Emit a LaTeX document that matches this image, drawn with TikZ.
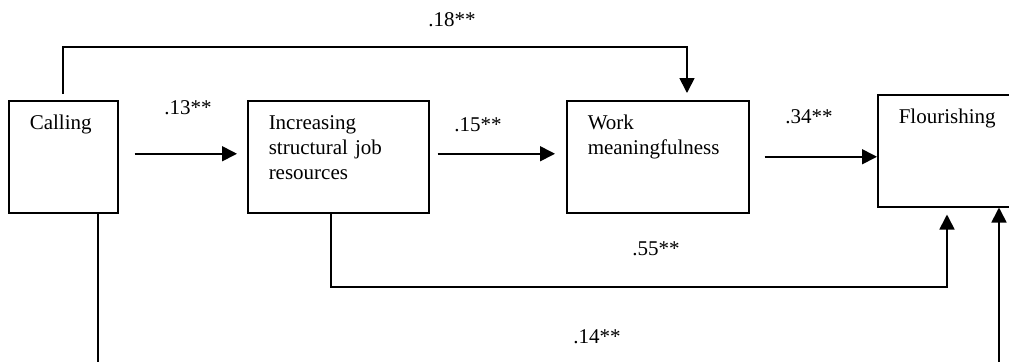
\documentclass[tikz,border=0pt]{standalone}
\usepackage{fontspec}
\setmainfont{Liberation Serif}
\usetikzlibrary{arrows.meta,calc}

\tikzset{
  box/.style={draw,line width=0.75pt,anchor=north west,align=left,
    inner xsep=10.5pt,inner ysep=7pt,text height=7.5pt,text depth=34.5pt,
    font=\fontsize{10.5}{12.5}\selectfont},
  coef/.style={inner sep=0pt,font=\fontsize{10.5}{12.5}\selectfont},
  conn/.style={line width=0.85pt},
  arr/.style={conn,-{Triangle[length=7.5pt,width=7.5pt]}}
}

\begin{document}
\begin{tikzpicture}[x=0.5pt,y=-0.5pt]
  \clip (0,0) rectangle (1009,361);
  % boxes, placed by their top left corners
  \node [box,text width=33.5pt] (call) at (8,100) {Calling};
  \node [box,text width=69.5pt] (inc) at (247,100) {Increasing\\structural job\\resources};
  \node [box,text width=70pt] (work) at (566,100) {Work\\meaningfulness};
  \node [box,text width=70.5pt] (flour) at (877,94) {Flourishing};
  \coordinate (topbend) at (687,47);
  \coordinate (lowbend) at (947,287);
  \coordinate (callout) at (98,370);
  \coordinate (flourin) at (999,370);
  \draw [arr,shorten <=8pt,shorten >=5pt] ([yshift=1.5pt]call.east) -- ([yshift=1.5pt]inc.west);
  \draw [arr,shorten <=4pt,shorten >=5.5pt] ([yshift=1.5pt]inc.east) -- ([yshift=1.5pt]work.west);
  \draw [arr,shorten <=7.5pt] (work.east) -- (work.east -| flour.west);
  \draw [arr,shorten <=3pt,shorten >=3.5pt] (call.north) |- (topbend) -- (topbend |- work.north);
  \draw [arr,shorten >=3.5pt] ([xshift=-3.75pt]inc.south) |- (lowbend) -- (lowbend |- flour.south);
  % the remaining path leaves the frame at the bottom
  \draw [conn] (callout |- call.south) -- (callout);
  \draw [arr] (flourin) -- (flourin |- flour.south);
  \node [coef] (c18) at (452,20) {.18**};
  \node [coef] (c13) at (188,108) {.13**};
  \node [coef] (c15) at (478,125) {.15**};
  \node [coef] (c34) at (809,117) {.34**};
  \node [coef] (c55) at (656,249) {.55**};
  \node [coef] (c14) at (597,337) {.14**};
\end{tikzpicture}
\end{document}
